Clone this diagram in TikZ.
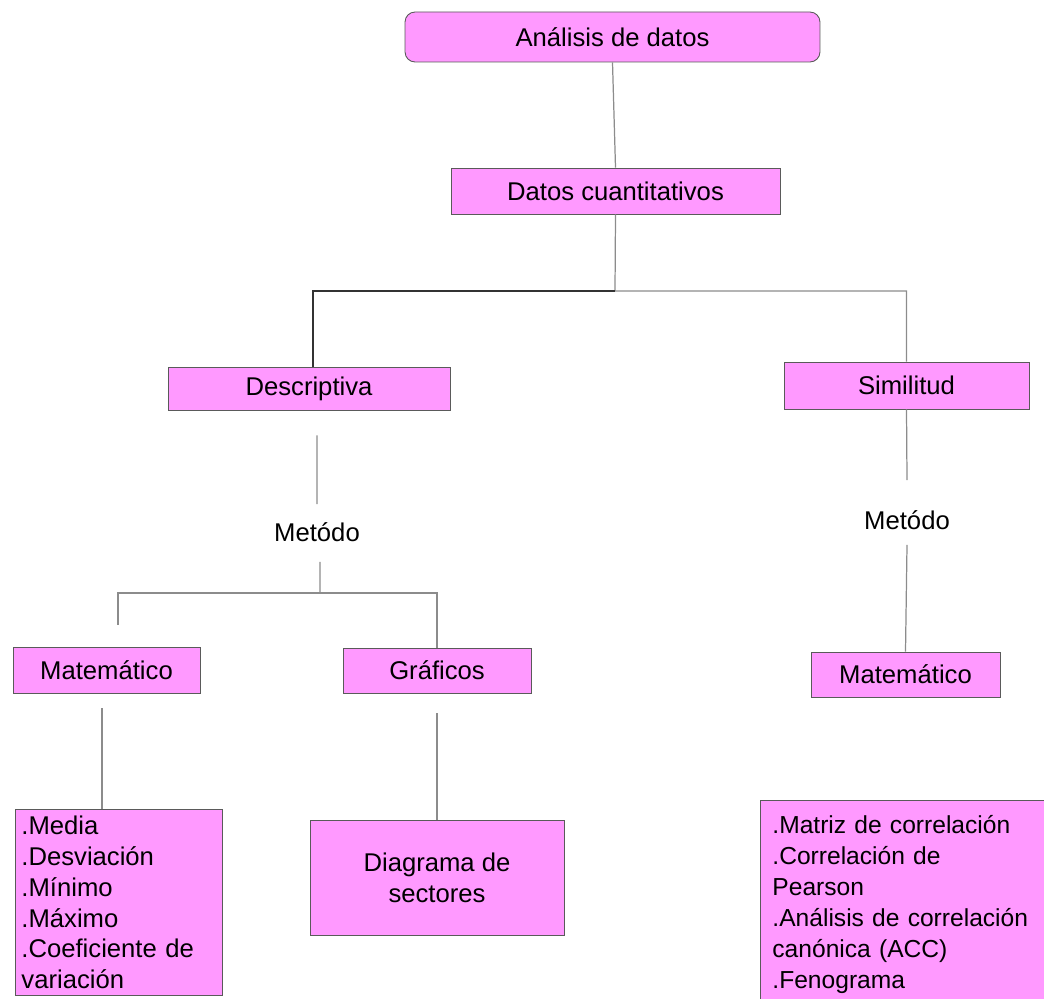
\documentclass[tikz,border=0pt]{standalone}
\usepackage{fontspec}
\setmainfont{Liberation Sans}
\usetikzlibrary{calc}
\definecolor{boxpink}{HTML}{FF99FF}
\definecolor{boxline}{HTML}{5A5A5A}
\definecolor{linkgray}{HTML}{8C8C8C}
\tikzset{
	box/.style={draw=boxline, line width=0.5pt, fill=boxpink, inner sep=0pt, font=\fontsize{14.6}{17.6}\selectfont},
	listbox/.style={box, align=left, inner xsep=0.12cm},
	label/.style={inner sep=0pt, font=\fontsize{14.6}{17.6}\selectfont},
	link/.style={draw=linkgray, line width=0.7pt},
	darklink/.style={draw=black!80, line width=0.9pt}
}

\begin{document}
\begin{tikzpicture}[x=0.02cm, y=-0.02cm]
			%%%%% START %%%%%
			\useasboundingbox (0, 0) rectangle (1044, 999);
			
			\node[box, rounded corners=0.2cm, minimum width=8.3cm, minimum height=1cm] (analisis) at (612.5, 37) {Análisis de datos};
			\node[box, minimum width=6.58cm, minimum height=0.92cm] (datos) at (615.5, 191) {Datos cuantitativos};
			
			\node[box, minimum width=5.64cm, minimum height=0.86cm] (descriptiva) at (309, 388.5) {Descriptiva};
			\node[box, minimum width=4.9cm, minimum height=0.94cm] (similitud) at (906.5, 385.5) {Similitud};
			
			\node[label] (metodoA) at (317, 532) {Metódo};
			\node[label] (metodoB) at (907, 520) {Metódo};
			
			\node[box, minimum width=3.74cm, minimum height=0.92cm] (matematicoA) at (106.5, 670) {Matemático};
			\node[box, minimum width=3.76cm, minimum height=0.9cm] (graficos) at (437, 670.5) {Gráficos};
			\node[box, minimum width=3.78cm, minimum height=0.9cm] (matematicoB) at (905.5, 674.5) {Matemático};
			
			\node[listbox, text width=3.9cm, minimum height=3.72cm, anchor=north west] (medidas) at (15, 809)
				{.Media\\.Desviación\\.Mínimo\\.Máximo\\.Coeficiente de\\variación};
			\node[box, align=center, minimum width=5.08cm, minimum height=2.3cm] (diagrama) at (437, 877.5) {Diagrama de\\sectores};
			\node[listbox, text width=5.7cm, inner xsep=0.24cm, inner ysep=0.3cm, anchor=north west,
				font=\fontsize{14}{17.6}\selectfont] (correlacion) at (760, 800)
				{.Matriz de correlación\\.Correlación de\\Pearson\\.Análisis de correlación\\canónica (ACC)\\.Fenograma};
			
			% arbol principal
			\coordinate (cruce) at (615, 291);
			\draw[link] (analisis.south) -- (datos.north);
			\draw[link] (datos.south) -- (cruce) -| (similitud.north);
			\draw[darklink] (cruce) -| ([xshift=0.08cm]descriptiva.north);
			
			% rama descriptiva
			\draw[link] ([xshift=0.16cm, yshift=-0.5cm]descriptiva.south) -- ([yshift=0.36cm]metodoA.north);
			\coordinate (reparto) at (320, 593);
			\draw[link] ([xshift=0.06cm, yshift=-0.4cm]metodoA.south) -- (reparto);
			\draw[link] (reparto) -| (graficos.north);
			\draw[link] (reparto) -| (118, 625);
			\draw[link] ([xshift=-0.09cm, yshift=-0.3cm]matematicoA.south) -- ([xshift=-0.09cm]matematicoA.south |- medidas.north);
			\draw[link] ([yshift=-0.4cm]graficos.south) -- (diagrama.north);
			
			% rama similitud
			\draw[link] (similitud.south) -- ([yshift=0.6cm]metodoB.north);
			\draw[link] ([yshift=-0.3cm]metodoB.south) -- (matematicoB.north);
			
			%%%%% END %%%%%
		\end{tikzpicture}
\end{document}
